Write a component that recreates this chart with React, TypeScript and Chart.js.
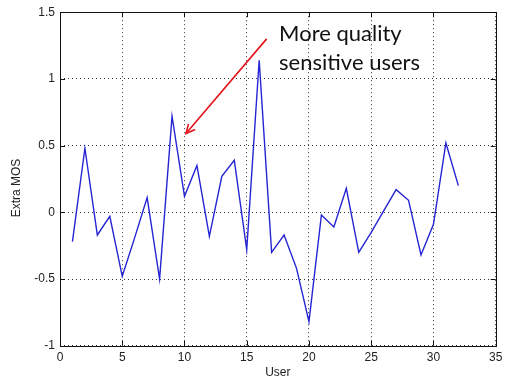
import React, { useEffect, useRef } from "react";
import { Chart, registerables } from "chart.js";

Chart.register(...registerables);

const users: number[] = Array.from({ length: 32 }, (_, i) => i + 1);
const extraMos: number[] = [
  -0.22, 0.48, -0.17, -0.03, -0.48, -0.19, 0.11, -0.5, 0.72, 0.12,
  0.35, -0.18, 0.27, 0.39, -0.28, 1.14, -0.3, -0.17, -0.42, -0.82,
  -0.02, -0.11, 0.18, -0.3, -0.15, 0.01, 0.17, 0.09, -0.32, -0.09,
  0.52, 0.2,
];
const xTicks: number[] = [0, 5, 10, 15, 20, 25, 30, 35];
const yTicks: number[] = [-1, -0.5, 0, 0.5, 1, 1.5];
const xTitle = "User";
const yTitle = "Extra MOS";
const noteLines: string[] = ["More quality", "sensitive users"];
// annotation anchor points in data units
const arrowFrom = { x: 16.6, y: 1.3 };
const arrowTo = { x: 10.12, y: 0.59 };
const noteAt = { x: 17.6, y: 1.286, lineStep: 0.216 };

const TICK_FONT = "'Liberation Sans', Arial, sans-serif";

const decorPlugin = {
  id: "decor",
  afterDatasetsDraw(chart: any) {
    const ctx = chart.ctx as CanvasRenderingContext2D;
    const { left, right, top, bottom } = chart.chartArea;
    const xs = chart.scales.x;
    const ys = chart.scales.y;
    ctx.save();
    // box
    ctx.strokeStyle = "#111";
    ctx.lineWidth = 1;
    ctx.setLineDash([]);
    ctx.strokeRect(Math.round(left) + 0.5, Math.round(top) + 0.5, Math.round(right - left), Math.round(bottom - top));
    // inward ticks
    const tl = 5;
    ctx.beginPath();
    for (const v of xTicks) {
      const px = Math.round(xs.getPixelForValue(v)) + 0.5;
      ctx.moveTo(px, bottom);
      ctx.lineTo(px, bottom - tl);
      ctx.moveTo(px, top);
      ctx.lineTo(px, top + tl);
    }
    for (const v of yTicks) {
      const py = Math.round(ys.getPixelForValue(v)) + 0.5;
      ctx.moveTo(left, py);
      ctx.lineTo(left + tl, py);
      ctx.moveTo(right, py);
      ctx.lineTo(right - tl, py);
    }
    ctx.stroke();

    // axis titles
    ctx.fillStyle = "#222";
    ctx.font = `12px ${TICK_FONT}`;
    ctx.textAlign = "center";
    ctx.textBaseline = "middle";
    ctx.fillText(xTitle, (left + right) / 2, 373);
    ctx.save();
    ctx.translate(17, 188);
    ctx.rotate(-Math.PI / 2);
    ctx.fillText(yTitle, 0, 0);
    ctx.restore();

    // arrow
    const x1 = xs.getPixelForValue(arrowFrom.x);
    const y1 = ys.getPixelForValue(arrowFrom.y);
    const x2 = xs.getPixelForValue(arrowTo.x);
    const y2 = ys.getPixelForValue(arrowTo.y);
    ctx.strokeStyle = "#e3141b";
    ctx.lineWidth = 1.6;
    ctx.beginPath();
    ctx.moveTo(x1, y1);
    ctx.lineTo(x2, y2);
    ctx.stroke();
    const ang = Math.atan2(y2 - y1, x2 - x1);
    const hl = 10;
    ctx.beginPath();
    ctx.moveTo(x2 - hl * Math.cos(ang - 0.45), y2 - hl * Math.sin(ang - 0.45));
    ctx.lineTo(x2, y2);
    ctx.lineTo(x2 - hl * Math.cos(ang + 0.45), y2 - hl * Math.sin(ang + 0.45));
    ctx.stroke();

    // note text
    ctx.fillStyle = "#111";
    ctx.font = "22px Lato, 'Open Sans', sans-serif";
    ctx.textAlign = "left";
    ctx.textBaseline = "alphabetic";
    noteLines.forEach((line, i) => {
      ctx.fillText(
        line,
        xs.getPixelForValue(noteAt.x),
        ys.getPixelForValue(noteAt.y - i * noteAt.lineStep)
      );
    });
    ctx.restore();
  },
};

export default function App() {
  const ref = useRef<HTMLCanvasElement | null>(null);
  useEffect(() => {
    if (!ref.current) return;
    const chart = new Chart(ref.current, {
      type: "line",
      data: {
        datasets: [
          {
            data: users.map((u, i) => ({ x: u, y: extraMos[i] })),
            borderColor: "#2424d4",
            borderWidth: 1.4,
            pointRadius: 0,
            tension: 0,
            fill: false,
          },
        ],
      },
      options: {
        animation: false,
        responsive: false,
        maintainAspectRatio: false,
        layout: { padding: { left: 0, top: 9.5, right: 12.3, bottom: 0 } },
        plugins: { legend: { display: false }, tooltip: { enabled: false } },
        scales: {
          x: {
            type: "linear",
            min: 0,
            max: 35,
            afterBuildTicks: (s: any) => {
              s.ticks = xTicks.map((v) => ({ value: v }));
            },
            afterFit: (s: any) => {
              s.height = 37.3;
            },
            ticks: {
              color: "#222",
              font: { family: TICK_FONT, size: 12 },
              padding: 5,
              maxRotation: 0,
              callback: (v: any) => String(Number(v)),
            },
            grid: { color: "#333", lineWidth: 1, drawTicks: false },
            border: { display: false, dash: [1, 3] },
          },
          y: {
            type: "linear",
            min: -1,
            max: 1.5,
            afterBuildTicks: (s: any) => {
              s.ticks = yTicks.map((v) => ({ value: v }));
            },
            afterFit: (s: any) => {
              s.width = 60;
            },
            ticks: {
              color: "#222",
              font: { family: TICK_FONT, size: 12 },
              padding: 5,
              callback: (v: any) => String(Number(v)),
            },
            grid: { color: "#333", lineWidth: 1, drawTicks: false },
            border: { display: false, dash: [1, 3] },
          },
        },
      },
      plugins: [decorPlugin],
    });
    return () => chart.destroy();
  }, []);
  return (
    <div style={{ position: "fixed", left: 0, top: 0, width: 508, height: 383, background: "#fff" }}>
      <canvas ref={ref} width={508} height={383} style={{ width: 508, height: 383 }} />
    </div>
  );
}
